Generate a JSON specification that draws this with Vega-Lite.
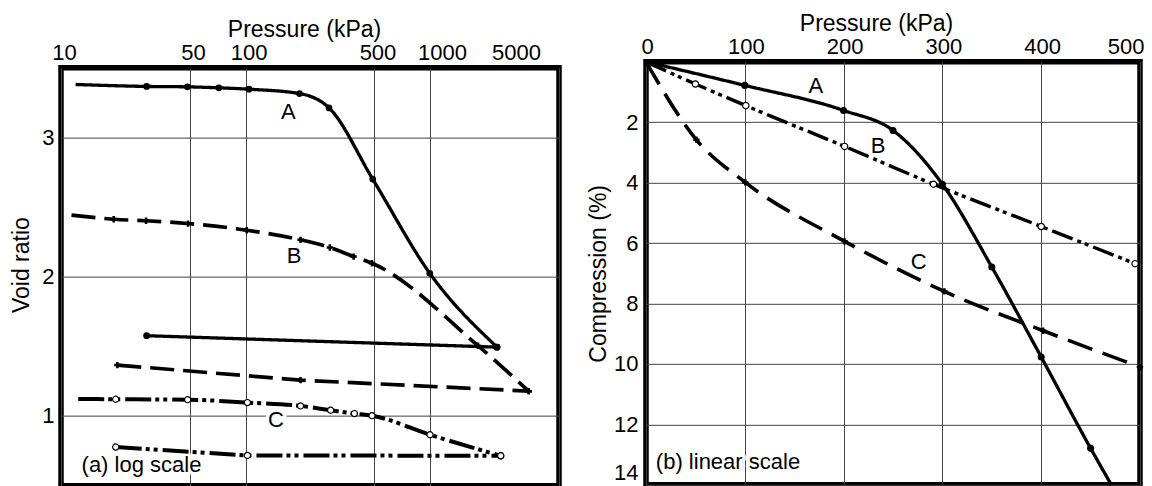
{
  "$schema": "https://vega.github.io/schema/vega-lite/v6.json",
  "padding": {"left": 8, "top": 9.5, "right": 0, "bottom": 0},
  "spacing": 22,
  "center": true,
  "resolve": {"scale": {"strokeDash": "independent", "strokeWidth": "independent"}},
  "config": {
    "font": "Liberation Sans",
    "view": {"stroke": "#000", "strokeWidth": 5.5},
    "axis": {
      "grid": true, "gridColor": "#444", "gridWidth": 1, "gridOpacity": 1,
      "ticks": false, "tickSize": 0, "domain": false,
      "labelFont": "Liberation Sans", "labelFontSize": 22, "labelColor": "#000",
      "titleFont": "Liberation Sans", "titleFontSize": 23, "titleFontWeight": "normal", "titleColor": "#000"
    }
  },
  "datasets": {
    "logCurves": [
      {"curve": "A", "branch": "loading", "p": 12, "e": 3.379, "measured": false},
      {"curve": "A", "branch": "loading", "p": 29.1, "e": 3.365, "measured": true},
      {"curve": "A", "branch": "loading", "p": 48.4, "e": 3.362, "measured": true},
      {"curve": "A", "branch": "loading", "p": 71.7, "e": 3.355, "measured": true},
      {"curve": "A", "branch": "loading", "p": 104.4, "e": 3.345, "measured": true},
      {"curve": "A", "branch": "loading", "p": 196, "e": 3.314, "measured": true},
      {"curve": "A", "branch": "loading", "p": 283.6, "e": 3.211, "measured": true},
      {"curve": "A", "branch": "loading", "p": 489, "e": 2.70, "measured": true},
      {"curve": "A", "branch": "loading", "p": 997, "e": 2.024, "measured": true},
      {"curve": "A", "branch": "loading", "p": 2307, "e": 1.494, "measured": true},
      {"curve": "A", "branch": "unloading", "p": 2307, "e": 1.494, "measured": true},
      {"curve": "A", "branch": "unloading", "p": 29.1, "e": 1.576, "measured": true},
      {"curve": "B", "branch": "loading", "p": 11.4, "e": 2.441, "measured": false},
      {"curve": "B", "branch": "loading", "p": 19.3, "e": 2.412, "measured": true},
      {"curve": "B", "branch": "loading", "p": 28.9, "e": 2.401, "measured": true},
      {"curve": "B", "branch": "loading", "p": 48.8, "e": 2.381, "measured": true},
      {"curve": "B", "branch": "loading", "p": 101.5, "e": 2.333, "measured": true},
      {"curve": "B", "branch": "loading", "p": 198.7, "e": 2.264, "measured": true},
      {"curve": "B", "branch": "loading", "p": 286.4, "e": 2.209, "measured": true},
      {"curve": "B", "branch": "loading", "p": 385.3, "e": 2.144, "measured": true},
      {"curve": "B", "branch": "loading", "p": 484.8, "e": 2.096, "measured": true},
      {"curve": "B", "branch": "loading", "p": 1820, "e": 1.504, "measured": true},
      {"curve": "B", "branch": "loading", "p": 3428, "e": 1.178, "measured": true},
      {"curve": "B", "branch": "unloading", "p": 3428, "e": 1.178, "measured": true},
      {"curve": "B", "branch": "unloading", "p": 198.7, "e": 1.257, "measured": true},
      {"curve": "B", "branch": "unloading", "p": 20.2, "e": 1.365, "measured": true},
      {"curve": "C", "branch": "loading", "p": 12.4, "e": 1.122, "measured": false},
      {"curve": "C", "branch": "loading", "p": 19.8, "e": 1.120, "measured": true},
      {"curve": "C", "branch": "loading", "p": 48.6, "e": 1.117, "measured": true},
      {"curve": "C", "branch": "loading", "p": 102.4, "e": 1.096, "measured": true},
      {"curve": "C", "branch": "loading", "p": 198.7, "e": 1.072, "measured": true},
      {"curve": "C", "branch": "loading", "p": 289.3, "e": 1.041, "measured": true},
      {"curve": "C", "branch": "loading", "p": 389.2, "e": 1.017, "measured": true},
      {"curve": "C", "branch": "loading", "p": 484.8, "e": 1.002, "measured": true},
      {"curve": "C", "branch": "loading", "p": 1000, "e": 0.865, "measured": true},
      {"curve": "C", "branch": "loading", "p": 2416, "e": 0.714, "measured": true},
      {"curve": "C", "branch": "unloading", "p": 2416, "e": 0.714, "measured": true},
      {"curve": "C", "branch": "unloading", "p": 102.4, "e": 0.717, "measured": true},
      {"curve": "C", "branch": "unloading", "p": 19.8, "e": 0.777, "measured": true}
    ],
    "logLabels": [
      {"label": "A", "p": 170.8, "e": 3.18},
      {"label": "B", "p": 183.2, "e": 2.151},
      {"label": "C", "p": 146.3, "e": 0.973},
      {"label": "(a) log scale", "p": 27.3, "e": 0.65}
    ],
    "linCurves": [
      {"curve": "A", "p": 0, "c": 0, "measured": false},
      {"curve": "A", "p": 100, "c": 0.78, "measured": true},
      {"curve": "A", "p": 200, "c": 1.61, "measured": true},
      {"curve": "A", "p": 250, "c": 2.27, "measured": true},
      {"curve": "A", "p": 300, "c": 4.05, "measured": true},
      {"curve": "A", "p": 350, "c": 6.79, "measured": true},
      {"curve": "A", "p": 400, "c": 9.77, "measured": true},
      {"curve": "A", "p": 450, "c": 12.79, "measured": true},
      {"curve": "A", "p": 471, "c": 14, "measured": false},
      {"curve": "B", "p": 0, "c": 0, "measured": false},
      {"curve": "B", "p": 50, "c": 0.735, "measured": true},
      {"curve": "B", "p": 101, "c": 1.45, "measured": true},
      {"curve": "B", "p": 201, "c": 2.80, "measured": true},
      {"curve": "B", "p": 291, "c": 4.05, "measured": true},
      {"curve": "B", "p": 400, "c": 5.45, "measured": true},
      {"curve": "B", "p": 495, "c": 6.68, "measured": true},
      {"curve": "C", "p": 0, "c": 0, "measured": false},
      {"curve": "C", "p": 51, "c": 2.58, "measured": true},
      {"curve": "C", "p": 100.5, "c": 3.99, "measured": true},
      {"curve": "C", "p": 201, "c": 5.94, "measured": true},
      {"curve": "C", "p": 302, "c": 7.60, "measured": true},
      {"curve": "C", "p": 402, "c": 8.90, "measured": true},
      {"curve": "C", "p": 500, "c": 10.1, "measured": true}
    ],
    "linLabels": [
      {"label": "A", "p": 172, "c": 0.81},
      {"label": "B", "p": 235, "c": 2.80},
      {"label": "C", "p": 276, "c": 6.63},
      {"label": "(b) linear scale", "p": 83, "c": 13.23}
    ]
  },
  "hconcat": [
    {
      "width": 498,
      "height": 418,
      "encoding": {
        "x": {
          "field": "p", "type": "quantitative",
          "scale": {"type": "log", "domain": [10, 5000], "nice": false},
          "axis": {
            "orient": "top", "title": "Pressure (kPa)", "values": [10, 50, 100, 500, 1000, 5000],
            "format": "d", "labelFlush": false, "labelPadding": 3, "titlePadding": 0.5, "titleX": 243,
            "labelOffset": {"condition": [{"test": "datum.value == 5000", "value": -43}, {"test": "datum.value == 1000", "value": 12}], "value": 3}
          }
        },
        "y": {
          "field": "e", "type": "quantitative",
          "scale": {"domain": [0.5, 3.5], "nice": false, "zero": false},
          "axis": {"orient": "left", "title": "Void ratio", "values": [1, 2, 3], "labelPadding": 7, "titlePadding": 8, "titleY": 197}
        }
      },
      "layer": [
        {
          "data": {"name": "logLabels"},
          "mark": {"type": "text", "fontSize": 22, "font": "Liberation Sans", "stroke": "#fff", "strokeWidth": 7, "strokeJoin": "round", "fill": "#fff"},
          "encoding": {"text": {"field": "label"}}
        },
        {
          "data": {"name": "logCurves"},
          "transform": [{"filter": "datum.branch == 'loading'"}],
          "mark": {"type": "line", "interpolate": "monotone", "color": "#000", "strokeCap": "butt"},
          "encoding": {
            "detail": {"field": "curve"},
            "strokeDash": {"field": "curve", "type": "nominal", "scale": {"domain": ["A", "B", "C"], "range": [[1, 0], [24, 9], [26, 4, 4, 4, 4, 5]]}, "legend": null},
            "strokeWidth": {"field": "curve", "type": "nominal", "scale": {"domain": ["A", "B", "C"], "range": [3.3, 4, 4]}, "legend": null}
          }
        },
        {
          "data": {"name": "logCurves"},
          "transform": [{"filter": "datum.branch == 'unloading'"}],
          "mark": {"type": "line", "interpolate": "linear", "color": "#000", "strokeCap": "butt"},
          "encoding": {
            "detail": {"field": "curve"},
            "strokeDash": {"field": "curve", "type": "nominal", "scale": {"domain": ["A", "B", "C"], "range": [[1, 0], [24, 9], [26, 4, 4, 4, 4, 5]]}, "legend": null},
            "strokeWidth": {"field": "curve", "type": "nominal", "scale": {"domain": ["A", "B", "C"], "range": [3.3, 4, 4]}, "legend": null}
          }
        },
        {
          "data": {"name": "logCurves"},
          "transform": [{"filter": "datum.curve == 'A' && datum.measured"}],
          "mark": {"type": "point", "shape": "circle", "filled": true, "fill": "#000", "stroke": "#000", "strokeWidth": 0, "size": 45, "opacity": 1}
        },
        {
          "data": {"name": "logCurves"},
          "transform": [{"filter": "datum.curve == 'B' && datum.measured"}],
          "mark": {"type": "point", "shape": "cross", "filled": true, "fill": "#000", "strokeWidth": 0, "size": 40, "opacity": 1}
        },
        {
          "data": {"name": "logCurves"},
          "transform": [{"filter": "datum.curve == 'C' && datum.measured"}],
          "mark": {"type": "point", "shape": "circle", "filled": true, "fill": "#fff", "stroke": "#000", "strokeWidth": 1.2, "size": 38, "opacity": 1}
        },
        {
          "data": {"name": "logLabels"},
          "mark": {"type": "text", "fontSize": 22, "font": "Liberation Sans", "fill": "#000"},
          "encoding": {"text": {"field": "label"}}
        }
      ]
    },
    {
      "width": 494,
      "height": 423,
      "encoding": {
        "x": {
          "field": "p", "type": "quantitative",
          "scale": {"domain": [0, 500], "nice": false},
          "axis": {
            "orient": "top", "title": "Pressure (kPa)", "values": [0, 100, 200, 300, 400, 500],
            "labelFlush": false, "labelPadding": 3, "titlePadding": 0.5, "titleX": 230,
            "labelAlign": {"condition": {"test": "datum.value == 500", "value": "right"}, "value": "center"},
            "labelOffset": {"condition": {"test": "datum.value == 500", "value": 4}, "value": 1}
          }
        },
        "y": {
          "field": "c", "type": "quantitative",
          "scale": {"domain": [0, 14], "reverse": true, "nice": false, "zero": false},
          "axis": {"orient": "left", "title": "Compression (%)", "values": [2, 4, 6, 8, 10, 12, 14], "labelPadding": 8, "titlePadding": 3, "labelFlush": true}
        }
      },
      "layer": [
        {
          "data": {"name": "linLabels"},
          "mark": {"type": "text", "fontSize": 22, "font": "Liberation Sans", "stroke": "#fff", "strokeWidth": 7, "strokeJoin": "round", "fill": "#fff"},
          "encoding": {"text": {"field": "label"}}
        },
        {
          "data": {"name": "linCurves"},
          "mark": {"type": "line", "interpolate": "monotone", "color": "#000", "strokeCap": "butt"},
          "encoding": {
            "detail": {"field": "curve"},
            "strokeDash": {"field": "curve", "type": "nominal", "scale": {"domain": ["A", "B", "C"], "range": [[1, 0], [22, 5, 4, 4, 4, 5], [26, 11]]}, "legend": null},
            "strokeWidth": {"field": "curve", "type": "nominal", "scale": {"domain": ["A", "B", "C"], "range": [3.3, 3.6, 4]}, "legend": null}
          }
        },
        {
          "data": {"name": "linCurves"},
          "transform": [{"filter": "datum.curve == 'A' && datum.measured"}],
          "mark": {"type": "point", "shape": "circle", "filled": true, "fill": "#000", "strokeWidth": 0, "size": 50, "opacity": 1}
        },
        {
          "data": {"name": "linCurves"},
          "transform": [{"filter": "datum.curve == 'B' && datum.measured"}],
          "mark": {"type": "point", "shape": "circle", "filled": true, "fill": "#fff", "stroke": "#000", "strokeWidth": 1.2, "size": 40, "opacity": 1}
        },
        {
          "data": {"name": "linCurves"},
          "transform": [{"filter": "datum.curve == 'C' && datum.measured"}],
          "mark": {"type": "point", "shape": "cross", "filled": true, "fill": "#000", "strokeWidth": 0, "size": 40, "opacity": 1}
        },
        {
          "data": {"name": "linLabels"},
          "mark": {"type": "text", "fontSize": 22, "font": "Liberation Sans", "fill": "#000"},
          "encoding": {"text": {"field": "label"}}
        }
      ]
    }
  ]
}
